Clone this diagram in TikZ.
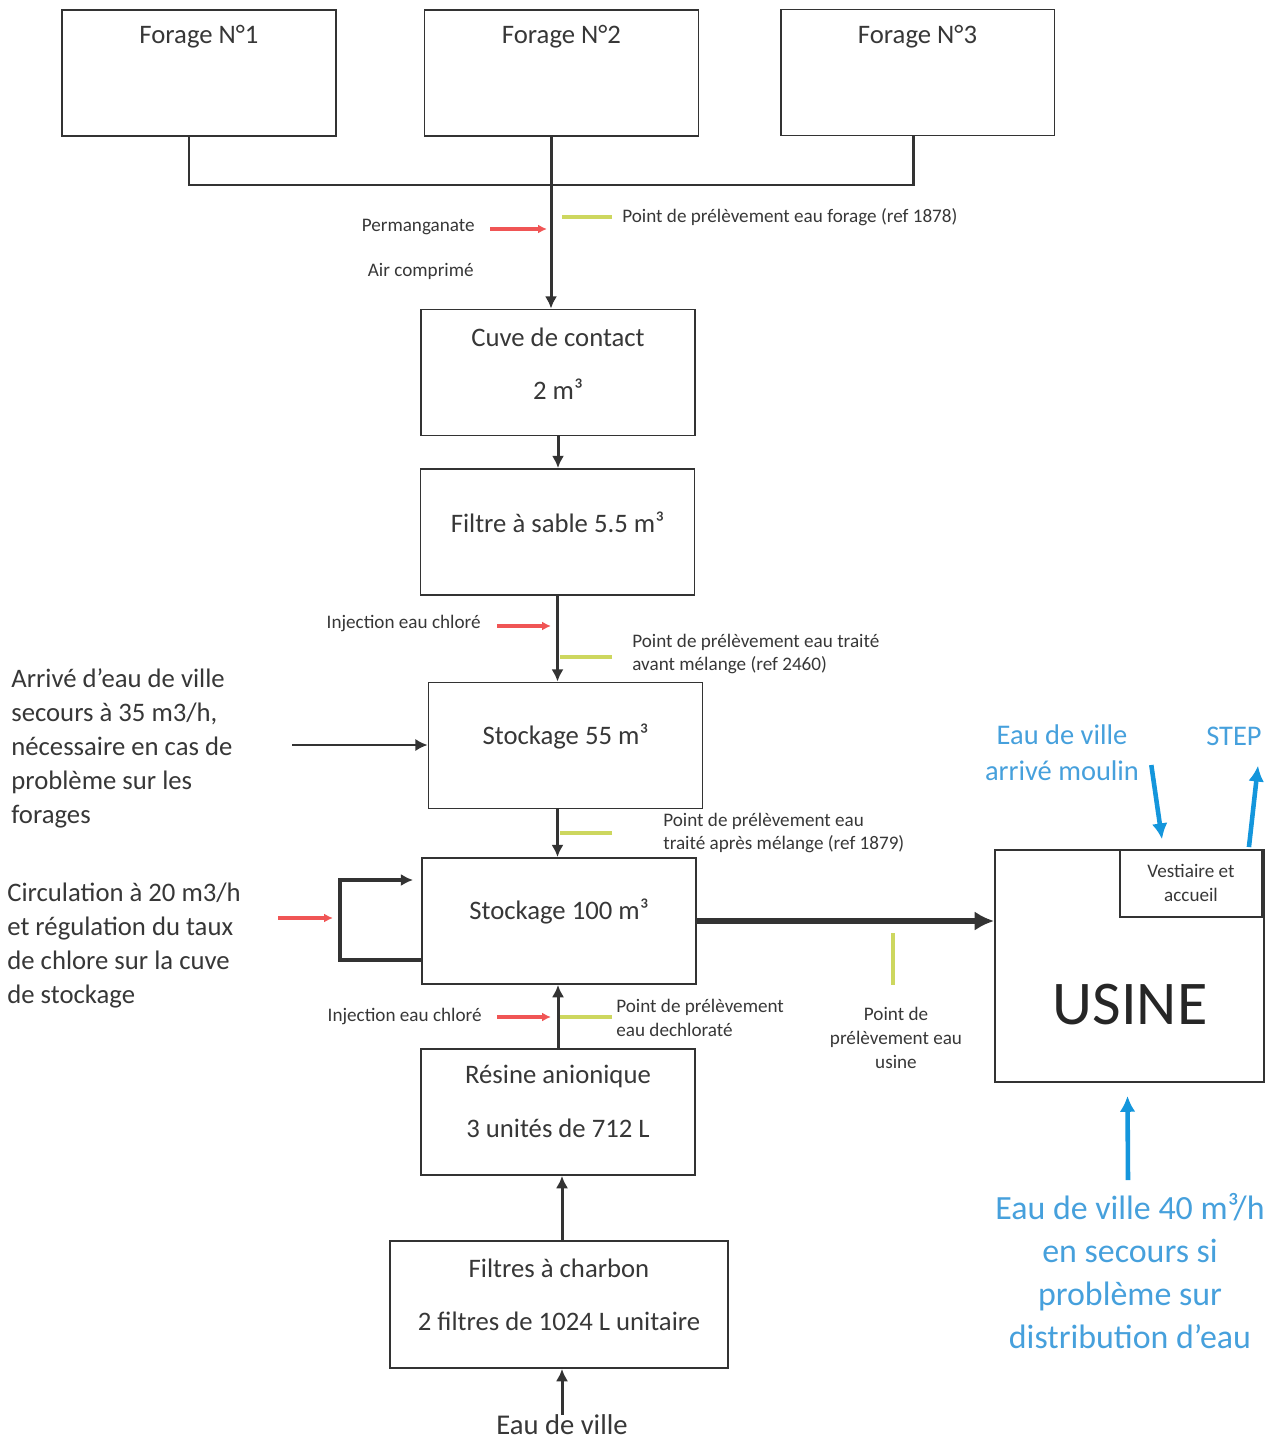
\documentclass[tikz,border=0pt]{standalone}
\usepackage{fontspec}
\setmainfont{Carlito}
\usepackage{xcolor}
\usetikzlibrary{arrows.meta,calc}

\definecolor{txtgray}{RGB}{55,55,55}
\definecolor{injred}{RGB}{240,85,85}
\definecolor{prelyellow}{RGB}{205,215,95}
\definecolor{villeblue}{RGB}{20,150,220}
\definecolor{villetext}{RGB}{70,160,220}

\tikzset{
  box/.style={draw=black!80, line width=1.1pt, inner sep=0pt, minimum width=5.48cm, minimum height=2.52cm},
  lbl/.style={text=txtgray, inner sep=0pt, font=\fontsize{15.2}{17}\selectfont},
  small/.style={text=txtgray, inner sep=0pt, align=left, font=\fontsize{10.9}{13.6}\selectfont},
  side/.style={text=txtgray, inner sep=0pt, align=left, font=\fontsize{15.2}{19.3}\selectfont},
  flow/.style={draw=black!80, line width=1.7pt, -{Latex[length=7pt,width=7pt]}},
  inj/.style={injred, line width=2.4pt, -{Latex[length=5pt,width=5pt]}},
  prel/.style={prelyellow, line width=2.4pt},
  bleu/.style={villeblue, line width=2.6pt, -{Latex[length=9pt,width=9pt]}},
}

\begin{document}
\begin{tikzpicture}[x=0.02cm, y=-0.02cm]
        \useasboundingbox (0,0) rectangle (1284,1440);

        % forages
        \node[box] (f1) at (199,73) {};
        \node[box] (f2) at (561.5,73) {};
        \node[box] (f3) at (917.5,72.5) {};
        \node[lbl] at (199,37) {Forage N°1};
        \node[lbl] at (561.5,37) {Forage N°2};
        \node[lbl] at (917.5,37) {Forage N°3};
        \coordinate (j1) at (189,185);
        \coordinate (j2) at (551,185);
        \coordinate (j3) at (913,185);
        \draw[draw=black!80, line width=1.7pt] (j1 |- f1.south) -- (j1) -- (j3) -- (j3 |- f3.south);

        % traitement
        \node[box] (cuve) at (558,372.5) {};
        \node[lbl] at (558,337) {Cuve de contact};
        \node[lbl] at (558,389) {2 m³};
        \node[box] (sable) at (557.5,532) {};
        \node[lbl] at (557.5,522) {Filtre à sable 5.5 m³};
        \node[box] (stock55) at (565.5,745.5) {};
        \node[lbl] at (565.5,736) {Stockage 55 m³};
        \node[box] (stock100) at (559,921) {};
        \node[lbl] at (559,911) {Stockage 100 m³};
        \node[box] (resine) at (558,1112) {};
        \node[lbl] at (558,1076) {Résine anionique};
        \node[lbl] at (558,1128) {3 unités de 712 L};
        \node[box, minimum width=6.76cm, minimum height=2.54cm] (charbon) at (559,1304.5) {};
        \node[lbl] at (559,1268) {Filtres à charbon};
        \node[lbl] at (559,1321) {2 filtres de 1024 L unitaire};
        \node[lbl, font=\fontsize{16.3}{18}\selectfont] (ville) at (562,1425) {Eau de ville};

        \draw[flow] (j2 |- f2.south) -- (j2 |- cuve.north);
        \draw[flow] (cuve.south) -- (cuve.south |- sable.north);
        \draw[flow] (sable.south) -- (sable.south |- stock55.north);
        \draw[flow] (sable.south |- stock55.south) -- (sable.south |- stock100.north);
        \draw[flow] (resine.north) -- (resine.north |- stock100.south);
        \draw[flow] (ville.north |- charbon.north) -- (ville.north |- resine.south);
        \draw[flow] (ville.north) -- (ville.north |- charbon.south);

        % injections et prelevements
        \node[small, anchor=east] (perm) at (475,227) {Permanganate};
        \node[small, anchor=east] (air) at (474,271) {Air comprimé};
        \draw[inj] (perm.east) ++(15,2) -- ++(57,0);
        \node[small, anchor=west] (pf1) at (622,217) {Point de prélèvement eau forage (ref 1878)};
        \draw[prel] (pf1.west) ++(-10,0) -- ++(-50,0);

        \node[small, anchor=east] (chl1) at (481,623) {Injection eau chloré};
        \draw[inj] (chl1.east) ++(16,3) -- ++(54,0);
        \node[small, anchor=west] (pf2) at (632,654) {Point de prélèvement eau traité\\avant mélange (ref 2460)};
        \draw[prel] (pf2.west) ++(-20,3) -- ++(-52,0);

        \node[small, anchor=west] (pf3) at (663,833) {Point de prélèvement eau\\traité après mélange (ref 1879)};
        \draw[prel] (pf3.west) ++(-51,0) -- ++(-52,0);

        \node[small, anchor=east] (chl2) at (482,1016) {Injection eau chloré};
        \draw[inj] (chl2.east) ++(15,1) -- ++(54,0);
        \node[small, anchor=west] (pf4) at (616,1018) {Point de prélèvement\\eau dechloraté};
        \draw[prel] (pf4.west) ++(-4,-1) -- ++(-52,0);

        % arrivees a gauche
        \node[side, anchor=west] (secours) at (11,748.5) {Arrivé d’eau de ville\\secours à 35 m3/h,\\nécessaire en cas de\\problème sur les\\forages};
        \coordinate (in55) at (292,745);
        \draw[flow, line width=1.1pt] (in55) -- (in55 -| stock55.west);

        \node[side, anchor=west] (circ) at (7,945.5) {Circulation à 20 m3/h\\et régulation du taux\\de chlore sur la cuve\\de stockage};
        \coordinate (redin) at (278,918);
        \draw[inj] (redin) -- ++(55,0);
        \draw[flow, line width=2.2pt] (stock100.west) ++(0,39) -- ++(-81,0) -- ++(0,-80) -- ++(73,0);

        % usine
        \node[box, minimum width=5.38cm, minimum height=4.64cm] (usine) at (1129.5,966) {};
        \node[box, minimum width=2.84cm, minimum height=1.34cm, line width=0.9pt] (vest) at (1191,883.5) {};
        \node[small, align=center] at (1191,883) {Vestiaire et\\accueil};
        \node[text=black!85, inner sep=0pt, font=\fontsize{35.4}{38}\selectfont] at (1130,1005) {USINE};
        \draw[draw=black!80, line width=3.4pt, -{Latex[length=11pt,width=11pt]}] (stock100.east) -- (stock100.east -| usine.west);

        \coordinate (pfu) at (893,933);
        \draw[prel] (pfu) -- ++(0,52);
        \node[small, align=center] at (896,1038) {Point de\\prélèvement eau\\usine};

        % eau de ville bleu
        \node[text=villetext, inner sep=0pt, align=center, font=\fontsize{16.2}{20.4}\selectfont] (moulin) at (1062,753) {Eau de ville\\arrivé moulin};
        \node[text=villetext, inner sep=0pt, font=\fontsize{16.2}{20.4}\selectfont] (step) at (1234,736) {STEP};
        \draw[bleu] ($(moulin.east)+(12,12)$) -- ($(vest.north)+(-29,-10)$);
        \draw[bleu] ($(usine.north east)+(-16,-2)$) -- ($(step.south)+(24,20)$);
        \node[text=villetext, inner sep=0pt, align=center, font=\fontsize{19.3}{24.4}\selectfont] (secours40) at (1130,1271) {Eau de ville 40 m³/h\\en secours si\\problème sur\\distribution d’eau};
        \draw[bleu] ($(secours40.north)+(-2,-13)$) -- ($(usine.south)+(-2,13)$);
\end{tikzpicture}
\end{document}
